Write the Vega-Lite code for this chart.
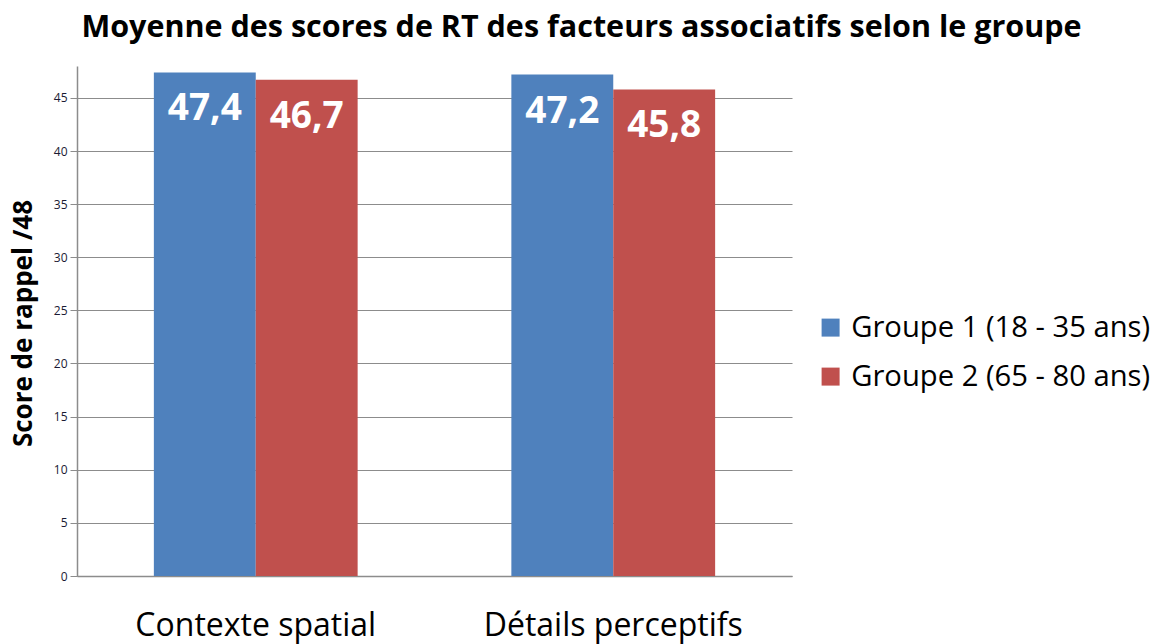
{
  "$schema": "https://vega.github.io/schema/vega-lite/v6.json",
  "width": 715,
  "height": 510,
  "autosize": {"type": "none"},
  "padding": {"left": 77, "top": 66, "right": 366, "bottom": 68},
  "background": "white",
  "title": {
    "text": "Moyenne des scores de RT des facteurs associatifs selon le groupe",
    "font": "Open Sans",
    "fontSize": 30.5,
    "fontWeight": "bold",
    "color": "#000000",
    "anchor": "middle",
    "dx": 147,
    "offset": 23
  },
  "data": {
    "values": [
      {"categorie": "Contexte spatial", "groupe": "Groupe 1 (18 - 35 ans)", "score": 47.4, "label": "47,4"},
      {"categorie": "Contexte spatial", "groupe": "Groupe 2 (65 - 80 ans)", "score": 46.7, "label": "46,7"},
      {"categorie": "Détails perceptifs", "groupe": "Groupe 1 (18 - 35 ans)", "score": 47.2, "label": "47,2"},
      {"categorie": "Détails perceptifs", "groupe": "Groupe 2 (65 - 80 ans)", "score": 45.8, "label": "45,8"}
    ]
  },
  "encoding": {
    "x": {
      "field": "categorie",
      "type": "nominal",
      "sort": ["Contexte spatial", "Détails perceptifs"],
      "scale": {"paddingInner": 0.43, "paddingOuter": 0.215},
      "axis": {
        "title": null,
        "labelAngle": 0,
        "labelFont": "Open Sans",
        "labelFontSize": 32,
        "labelColor": "#000000",
        "labelPadding": 34,
        "labelLimit": 400,
        "ticks": false,
        "domainColor": "#8c8c8c",
        "domainWidth": 1.5,
        "grid": false
      }
    },
    "xOffset": {
      "field": "groupe",
      "type": "nominal",
      "sort": ["Groupe 1 (18 - 35 ans)", "Groupe 2 (65 - 80 ans)"]
    },
    "y": {
      "field": "score",
      "type": "quantitative",
      "scale": {"domain": [0, 48], "nice": false},
      "axis": {
        "values": [0, 5, 10, 15, 20, 25, 30, 35, 40, 45],
        "title": "Score de rappel /48",
        "titleFont": "Open Sans",
        "titleFontSize": 26,
        "titleFontWeight": "bold",
        "titleColor": "#000000",
        "titleX": -54,
        "titleY": 257,
        "titleBaseline": "middle",
        "titleAngle": -90,
        "labelFont": "Open Sans",
        "labelFontSize": 12,
        "labelColor": "#1a1a33",
        "labelPadding": 3,
        "tickSize": 7,
        "tickColor": "#8c8c8c",
        "domainColor": "#8c8c8c",
        "domainWidth": 1.5,
        "grid": true,
        "gridColor": "#8c8c8c",
        "gridWidth": 1.2
      }
    }
  },
  "layer": [
    {
      "mark": {"type": "bar"},
      "encoding": {
        "color": {
          "field": "groupe",
          "type": "nominal",
          "sort": ["Groupe 1 (18 - 35 ans)", "Groupe 2 (65 - 80 ans)"],
          "scale": {"range": ["#4f81bd", "#c0504d"]},
          "legend": {
            "title": null,
            "orient": "none",
            "legendX": 739,
            "legendY": 247,
            "symbolType": "square",
            "symbolSize": 324,
            "symbolStrokeWidth": 0,
            "labelFont": "Open Sans",
            "labelFontSize": 29.2,
            "labelColor": "#000000",
            "labelOffset": 6,
            "rowPadding": 19,
            "labelLimit": 400
          }
        }
      }
    },
    {
      "mark": {
        "type": "text",
        "baseline": "alphabetic",
        "dy": 48,
        "color": "white",
        "font": "Open Sans",
        "fontSize": 37,
        "fontWeight": "bold"
      },
      "encoding": {"text": {"field": "label"}}
    }
  ],
  "config": {"view": {"stroke": null}}
}
